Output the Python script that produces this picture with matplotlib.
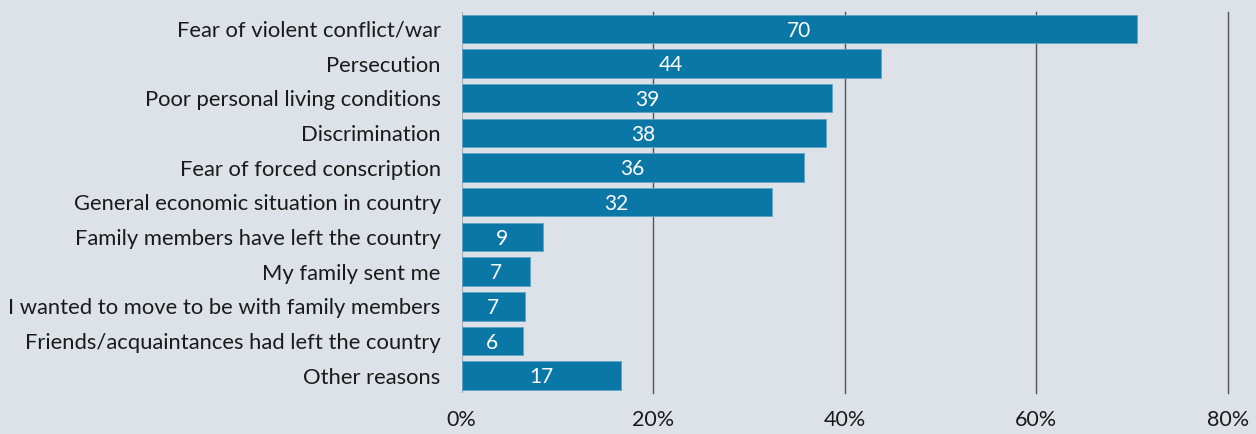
import matplotlib.pyplot as plt

reasons = [
    "Fear of violent conflict/war",
    "Persecution",
    "Poor personal living conditions",
    "Discrimination",
    "Fear of forced conscription",
    "General economic situation in country",
    "Family members have left the country",
    "My family sent me",
    "I wanted to move to be with family members",
    "Friends/acquaintances had left the country",
    "Other reasons",
]
shares = [70.5, 43.8, 38.7, 38.0, 35.7, 32.4, 8.5, 7.2, 6.6, 6.4, 16.6]
shown = [70, 44, 39, 38, 36, 32, 9, 7, 7, 6, 17]
ticks = [0, 20, 40, 60, 80]

bg = "#dde2e9"
bar_color = "#0a77a7"

plt.rcParams["font.family"] = ["Lato", "DejaVu Sans"]

fig = plt.figure(figsize=(12.56, 4.34), dpi=100, facecolor=bg)
# axes box in pixels: left 461.5, right 1228, top 11.6, bottom 393
ax = fig.add_axes([461.5 / 1256, 41 / 434, (1228 - 461.5) / 1256, 381.5 / 434])
ax.set_facecolor(bg)

pos = list(range(len(reasons)))
ax.barh(pos, shares, height=0.82, color=bar_color, edgecolor="#5fa3c4",
        linewidth=0.6, zorder=3)
for y, v, s in zip(pos, shares, shown):
    ax.text(v / 2, y + 0.05, str(s), ha="center", va="center", color="white",
            fontsize=15, zorder=4)

ax.set_ylim(len(reasons) - 0.5, -0.5)
ax.set_xlim(0, 80)
ax.set_yticks(pos)
ax.set_yticklabels(reasons, fontsize=15.8, color="#1a1a1a")
ax.set_xticks(ticks)
ax.set_xticklabels([f"{t}%" for t in ticks], fontsize=15.5, color="#1a1a1a")
ax.tick_params(length=0)
ax.tick_params(axis="y", pad=15)
ax.tick_params(axis="x", pad=12)

for t in ticks[1:]:
    ax.axvline(t, color="#555555", linewidth=1.0, zorder=1, clip_on=False)
ax.axvline(0, color="#aaaaaa", linewidth=1.5, zorder=2)

for s in ax.spines.values():
    s.set_visible(False)

fig.savefig("out.png", dpi=100, facecolor=bg)
